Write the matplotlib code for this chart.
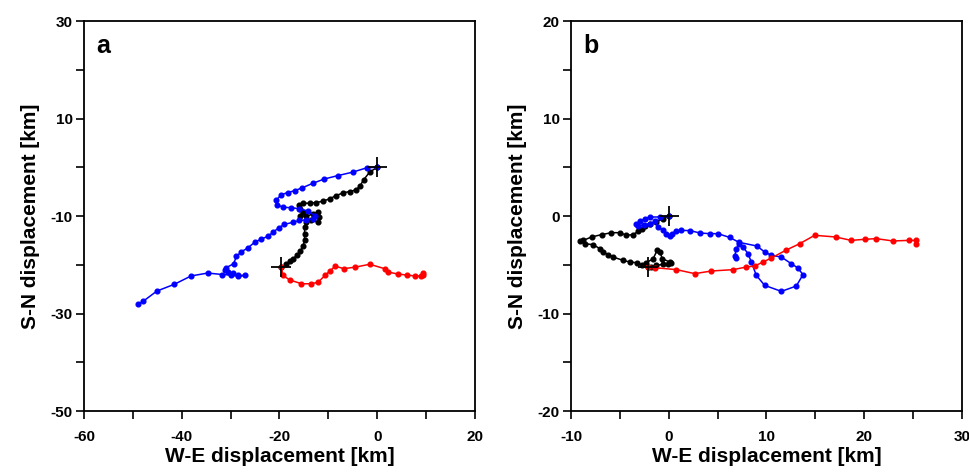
import matplotlib
matplotlib.use("Agg")
import matplotlib.pyplot as plt

plt.rcParams['font.family'] = ['Liberation Sans', 'DejaVu Sans']
plt.rcParams['font.weight'] = 'bold'
plt.rcParams['axes.unicode_minus'] = False

# panel a tracks (km)
a_black_x = [0, -1.56, -2.79, -3.47, -4.29, -5.65, -7.02, -8.38, -9.75, -11.11, -12.48, -13.84,
             -15.2, -16.02, -15.88, -15.2, -15.88, -14.52, -13.16, -12.14, -11.93, -12.14, -13.5,
             -14.52, -14.86, -14.86, -14.86, -15.2, -15.75, -16.43, -17.25, -17.93, -18.6, -19.6]
a_black_y = [0, -1.02, -2.59, -3.75, -4.64, -4.98, -5.26, -5.8, -6.48, -6.96, -7.24, -7.37,
             -7.37, -7.65, -8.53, -9.21, -9.9, -10.1, -9.56, -9.21, -10.24, -11.26, -10.92,
             -11.26, -12.29, -13.65, -15.02, -16.25, -17.2, -18.09, -18.77, -19.25, -19.9, -20.5]

a_blue_x = [0, -2.1, -5.0, -8.0, -10.8, -13.2, -15.3, -16.9, -18.3, -19.6, -20.7, -20.5, -19.3,
            -17.6, -15.9, -14.2, -12.8, -13.2, -14.5, -15.9, -17.2, -19.0, -20.1, -21.3, -22.4,
            -23.7, -25.1, -26.4, -27.9, -28.8, -29.4, -30.9, -31.2, -30.5, -29.5, -28.5, -27.1,
            -28.5, -29.9, -31.7, -34.7, -38.1, -41.5, -45.1, -47.9, -48.9]
a_blue_y = [0, -0.1, -1.0, -1.7, -2.4, -3.3, -4.2, -4.8, -5.2, -5.6, -6.8, -7.7, -8.2,
            -8.3, -8.5, -9.0, -9.9, -10.6, -10.8, -10.9, -11.3, -11.7, -12.4, -13.3, -14.2,
            -14.7, -15.4, -16.5, -17.4, -18.3, -19.8, -20.6, -21.0, -21.5, -21.7, -22.2, -22.2,
            -22.3, -22.1, -22.0, -21.7, -22.3, -24.0, -25.4, -27.5, -28.0]

a_red_x = [-19.6, -19.3, -17.9, -15.5, -13.6, -12.1, -10.7, -9.7, -8.6, -6.8, -4.6, -1.5,
           1.5, 2.3, 4.2, 6.0, 7.7, 9.0, 9.4, 9.3]
a_red_y = [-20.5, -22.2, -23.1, -23.9, -23.9, -23.6, -22.2, -21.3, -20.3, -20.8, -20.5, -19.9,
           -20.8, -21.5, -21.9, -22.1, -22.3, -22.3, -21.7, -22.2]

a_cross_x = [0, -19.6]
a_cross_y = [0, -20.5]

a_xticks = [-60, -40, -20, 0, 20]
a_xminor = [-50, -30, -10, 10]
a_yticks = [-50, -30, -10, 10, 30]
a_yminor = [-40, -20, 0, 20]

# panel b tracks (km)
b_black_x = [0, -0.58, -1.26, -1.94, -2.45, -2.79, -3.13, -3.65, -4.33, -5.0, -5.86, -6.88,
             -7.9, -8.75, -9.1, -8.59, -7.73, -7.05, -6.71, -6.2, -5.69, -4.67, -3.99, -3.3,
             -2.79, -2.28, -1.6, -1.19, -0.92, -0.65, 0.1, 0.27, -0.07, -0.58, -1.26, -1.77, -2.11]
b_black_y = [0, -0.27, -0.62, -0.79, -1.0, -1.3, -1.57, -1.91, -1.98, -1.71, -1.71, -1.91,
             -2.15, -2.5, -2.6, -2.84, -2.94, -3.35, -3.69, -3.96, -4.21, -4.55, -4.72, -4.79,
             -5.0, -4.79, -4.38, -3.52, -3.69, -4.38, -4.72, -4.79, -4.96, -4.96, -5.06, -5.23, -5.23]

b_blue_x = [0, -0.9, -1.94, -2.45, -2.96, -3.4, -3.13, -2.55, -1.94, -1.43, -1.09, -0.58,
            -0.24, 0.1, 0.3, 0.78, 1.29, 2.2, 3.17, 4.19, 5.04, 6.24, 7.19, 9.03, 9.81, 10.5,
            11.52, 12.54, 13.22, 13.73, 13.05, 11.52, 9.81, 8.96, 8.45, 8.11, 7.6, 7.19, 6.92,
            6.75, 6.92]
b_blue_y = [0, -0.1, -0.1, -0.27, -0.55, -0.8, -1.03, -0.89, -0.79, -0.55, -1.13, -1.47,
            -1.81, -2.1, -1.8, -1.54, -1.47, -1.5, -1.74, -1.81, -1.81, -2.2, -2.7, -3.08, -3.69,
            -4.03, -4.21, -4.89, -5.33, -6.02, -7.18, -7.73, -7.11, -6.09, -4.72, -3.86, -3.18,
            -2.84, -3.35, -4.1, -4.31]

b_red_x = [-2.11, -1.43, 0.78, 2.66, 4.36, 6.58, 7.94, 8.79, 9.64, 10.5, 11.96, 13.39, 14.93,
           17.07, 18.67, 20.03, 21.23, 22.93, 24.57, 25.25, 25.3]
b_red_y = [-5.23, -5.3, -5.5, -5.91, -5.64, -5.5, -5.23, -5.13, -4.72, -4.31, -3.52, -2.84, -1.98,
           -2.15, -2.5, -2.39, -2.32, -2.56, -2.5, -2.5, -2.84]

b_cross_x = [0, -2.1]
b_cross_y = [0, -5.2]

b_xticks = [-10, 0, 10, 20, 30]
b_xminor = [-5, 5, 15, 25]
b_yticks = [-20, -10, 0, 10, 20]
b_yminor = [-15, -5, 5, 15]


def track(ax, x, y, color):
    ax.plot(x, y, color=color, lw=1.1, marker='o', ms=3.4, mec=color, mfc=color)


def style_axes(ax, xlim, ylim, xt, xm, yt, ym, letter):
    ax.set_xlim(*xlim)
    ax.set_ylim(*ylim)
    ax.set_xticks(xt)
    ax.set_xticks(xm, minor=True)
    ax.set_yticks(yt)
    ax.set_yticks(ym, minor=True)
    ax.tick_params(which='both', direction='out', length=6, width=1.2, top=False, right=False)
    ax.tick_params(axis='x', which='major', pad=8, labelsize=11)
    ax.tick_params(axis='y', which='major', pad=2, labelsize=11)
    for s in ax.spines.values():
        s.set_linewidth(1.3)
    ax.set_xlabel('W-E displacement [km]', fontsize=15, fontweight='bold', labelpad=2)
    ax.set_ylabel('S-N displacement [km]', fontsize=15, fontweight='bold', labelpad=8)
    ax.text(0.031, 0.935, letter, transform=ax.transAxes, fontsize=18, fontweight='bold',
            ha='left', va='center')


fig = plt.figure(figsize=(9.7, 4.72), dpi=100)
ax_a = fig.add_axes([0.0866, 0.1292, 0.403, 0.8263])
ax_b = fig.add_axes([0.5887, 0.1292, 0.403, 0.8263])

track(ax_a, a_black_x, a_black_y, 'black')
track(ax_a, a_blue_x, a_blue_y, 'blue')
track(ax_a, a_red_x, a_red_y, 'red')
ax_a.plot(a_cross_x, a_cross_y, ls='none', marker='+', ms=15, mew=1.3, color='black')
style_axes(ax_a, (-60, 20), (-50, 30), a_xticks, a_xminor, a_yticks, a_yminor, 'a')

track(ax_b, b_black_x, b_black_y, 'black')
track(ax_b, b_blue_x, b_blue_y, 'blue')
track(ax_b, b_red_x, b_red_y, 'red')
ax_b.plot(b_cross_x, b_cross_y, ls='none', marker='+', ms=15, mew=1.3, color='black')
style_axes(ax_b, (-10, 30), (-20, 20), b_xticks, b_xminor, b_yticks, b_yminor, 'b')

fig.savefig('out.png', dpi=100)
